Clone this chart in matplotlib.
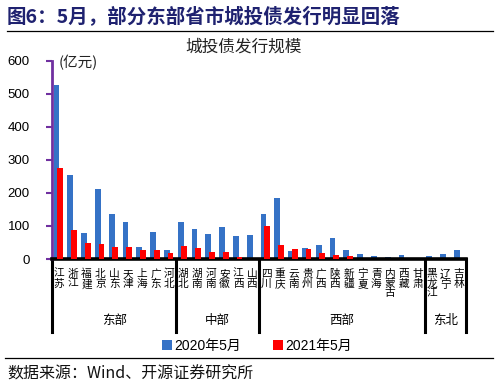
import matplotlib
matplotlib.use("Agg")
import matplotlib.pyplot as plt
import matplotlib.transforms as mtransforms
import numpy as np

plt.rcParams["font.family"] = ["Liberation Sans", "Noto Sans CJK SC", "DejaVu Sans"]

provinces = ["江苏", "浙江", "福建", "北京", "山东", "天津", "上海", "广东", "河北",
             "湖北", "湖南", "河南", "安徽", "江西", "山西",
             "四川", "重庆", "云南", "贵州", "广西", "陕西", "新疆", "宁夏", "青海", "内蒙古", "西藏", "甘肃",
             "黑龙江", "辽宁", "吉林"]
may_2020 = [525, 254, 80, 211, 135, 112, 36, 82, 27,
            112, 91, 77, 97, 70, 73,
            136, 184, 24, 33, 42, 64, 27, 15, 9, 6, 12, 0,
            9, 15, 27]
may_2021 = [276, 88, 49, 46, 36, 35, 27, 27, 19,
            39, 34, 22, 22, 6, 0,
            101, 42, 30, 30, 18, 11, 8, 0, 0, 0, 0, 0,
            0, 0, 0]
regions = ["东部", "中部", "西部", "东北"]
region_sizes = [9, 6, 12, 3]

BLUE = "#3572C6"
RED = "#FF0000"

fig = plt.figure(figsize=(5.02, 3.9), dpi=100)
ax = fig.add_axes([52 / 502, 1 - 259 / 390, 414 / 502, 198.3 / 390])

x = np.arange(len(provinces))
ax.bar(x - 0.17, may_2020, width=0.42, color=BLUE, label="2020年5月", zorder=2)
ax.bar(x + 0.08, may_2021, width=0.42, color=RED, label="2021年5月", zorder=3)

ax.set_xlim(-0.5, len(provinces) - 0.5)
ax.set_ylim(0, 600)
ax.set_yticks(range(0, 601, 100))
ax.tick_params(axis="y", labelsize=9.5, length=4, width=1.5, color="#7030A0", pad=12)
ax.set_xticks([])
for side in ["top", "right"]:
    ax.spines[side].set_visible(False)
ax.spines["left"].set_color("#7030A0")
ax.spines["left"].set_linewidth(2)
ax.spines["bottom"].set_color("black")
ax.spines["bottom"].set_linewidth(2.6)

trans = mtransforms.blended_transform_factory(ax.transData, ax.transAxes)
for i, name in enumerate(provinces):
    ax.text(i, -0.05, "\n".join(name), transform=trans, ha="center", va="top",
            fontsize=7.7, linespacing=0.95, family=["Noto Sans CJK SC"])

bounds = np.concatenate([[0], np.cumsum(region_sizes)]) - 0.5
for b in bounds:
    ax.plot([b, b], [0, -0.37], transform=trans, color="black", lw=2.2, clip_on=False)
for r, lo, hi in zip(regions, bounds[:-1], bounds[1:]):
    ax.text((lo + hi) / 2, -0.31, r, transform=trans, ha="center", va="center",
            fontsize=9, family=["Noto Sans CJK SC"])

ax.text(0.015, 0.99, "(亿元)", transform=ax.transAxes, ha="left", va="center", fontsize=10.5,
        family=["Noto Sans CJK SC"], color="#222222")

# title, subtitle, legend, source
fig.text(7 / 502, 1 - 17 / 390, "图6：5月，部分东部省市城投债发行明显回落", ha="left", va="center",
         fontsize=14, fontweight="bold", color="#1F2270", family=["Noto Sans CJK SC"])
fig.add_artist(plt.Line2D([7 / 502, 493 / 502], [1 - 31 / 390, 1 - 31 / 390], color="black", lw=0.9))
fig.text(244 / 502, 1 - 47 / 390, "城投债发行规模", ha="center", va="center", fontsize=12,
         family=["Noto Sans CJK SC"], color="#222222")

fig.legend(loc="center", bbox_to_anchor=(257 / 502, 1 - 346 / 390), ncol=2, frameon=False,
           fontsize=10, handlelength=0.75, handleheight=0.75, handletextpad=0.15, columnspacing=2.3)

fig.add_artist(plt.Line2D([5 / 502, 493 / 502], [1 - 358 / 390, 1 - 358 / 390], color="black", lw=0.9))
fig.text(7 / 502, 1 - 374 / 390, "数据来源：Wind、开源证券研究所", ha="left", va="center",
         fontsize=11.5, family=["Noto Sans CJK SC"], color="#111111")

fig.savefig("out.png", dpi=100)
